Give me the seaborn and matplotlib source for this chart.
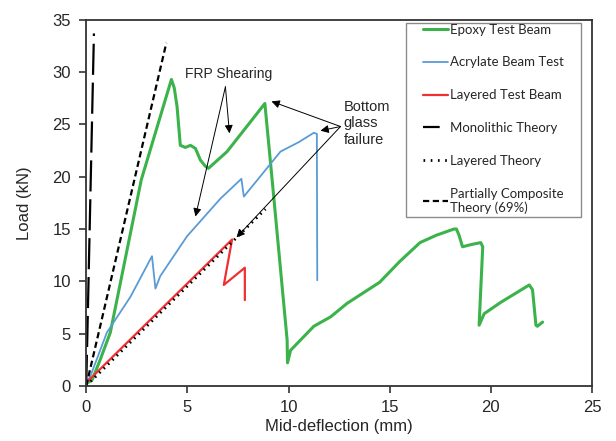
import matplotlib
matplotlib.use("Agg")
import matplotlib.pyplot as plt
import seaborn as sns
from matplotlib.patches import Rectangle

# Epoxy test beam (mid-deflection mm, load kN)
epoxy_x = [0.0, 0.3, 0.69, 1.19, 2.72, 4.21, 4.35, 4.49, 4.65, 4.9, 5.15, 5.4, 5.64, 5.89, 6.04,
           6.96, 8.83, 9.19, 9.93, 9.95, 10.1, 11.25, 12.08, 12.9, 14.5, 15.5, 16.5, 17.3, 18.18,
           18.3, 18.43, 18.6, 19.0, 19.5, 19.6, 19.42, 19.67, 20.5, 21.9, 22.06, 22.23, 22.3, 22.56]
epoxy_y = [0.2, 0.6, 2.5, 5.1, 19.7, 29.3, 28.5, 26.7, 23.0, 22.8, 23.0, 22.7, 21.6, 21.0, 20.8,
           22.4, 27.0, 19.7, 4.4, 2.2, 3.4, 5.7, 6.6, 7.9, 9.9, 11.9, 13.7, 14.4, 15.0,
           15.0, 14.4, 13.3, 13.5, 13.7, 13.3, 5.8, 6.9, 8.0, 9.65, 9.2, 5.8, 5.7, 6.1]

# Acrylate beam test
acrylate_x = [0.0, 0.2, 1.02, 2.18, 3.25, 3.42, 3.66, 4.98, 6.63, 7.67, 7.79, 9.6, 10.5, 11.25, 11.4, 11.42]
acrylate_y = [0.3, 0.9, 5.1, 8.5, 12.4, 9.3, 10.5, 14.3, 17.9, 19.8, 18.1, 22.4, 23.3, 24.2, 24.1, 10.1]

# Layered test beam
layered_x = [0.0, 7.21, 6.8, 7.84, 7.84]
layered_y = [0.3, 14.0, 9.65, 11.3, 8.2]

# Theory lines
mono_x = [0.0, 0.38]
mono_y = [0.0, 33.7]
layth_x = [0.0, 8.86]
layth_y = [0.0, 16.9]
partial_x = [0.0, 3.96]
partial_y = [0.0, 32.8]

sns.set_style("ticks")
plt.rcParams['font.family'] = ['Liberation Sans', 'DejaVu Sans']

fig = plt.figure(figsize=(6.16, 4.41), dpi=100)
ax = fig.add_axes([0.14, 0.125, 0.821, 0.83])

sns.lineplot(x=epoxy_x, y=epoxy_y, sort=False, estimator=None, color='#3BB34A', lw=2.2,
             label='Epoxy Test Beam', ax=ax)
sns.lineplot(x=acrylate_x, y=acrylate_y, sort=False, estimator=None, color='#5B9BD5', lw=1.3,
             label='Acrylate Beam Test', ax=ax)
sns.lineplot(x=layered_x, y=layered_y, sort=False, estimator=None, color='#F03030', lw=1.6,
             label='Layered Test Beam', ax=ax)
sns.lineplot(x=mono_x, y=mono_y, sort=False, estimator=None, color='black', lw=1.6,
             label='Monolithic Theory', ax=ax)
ax.lines[-1].set_dashes([14, 3.5])
sns.lineplot(x=layth_x, y=layth_y, sort=False, estimator=None, color='black', lw=2.0,
             label='Layered Theory', ax=ax)
ax.lines[-1].set_dashes([0.6, 1.6])
sns.lineplot(x=partial_x, y=partial_y, sort=False, estimator=None, color='black', lw=1.6,
             label='Partially Composite\nTheory (69%)', ax=ax)
ax.lines[-1].set_dashes([2.8, 1.6])

ax.set_xlim(0, 25)
ax.set_ylim(0, 35)
ax.set_xticks(range(0, 26, 5))
ax.set_yticks(range(0, 36, 5))
ax.tick_params(labelsize=12, direction='out', length=5, width=1.2, color='#333333')
ax.tick_params(axis='x', pad=5)
ax.tick_params(axis='y', pad=6)
ax.set_xlabel('Mid-deflection (mm)', fontsize=12, labelpad=3)
ax.set_ylabel('Load (kN)', fontsize=12, labelpad=15)
for s in ax.spines.values():
    s.set_color('#333333')
    s.set_linewidth(1.3)

arrow = dict(arrowstyle='-|>', color='black', lw=0.7, mutation_scale=12, shrinkA=0, shrinkB=0)
ax.text(7.03, 29.8, 'FRP Shearing', fontsize=10, ha='center', va='center')
ax.annotate('', xy=(7.08, 24.15), xytext=(6.88, 28.6), arrowprops=arrow)
ax.annotate('', xy=(5.4, 16.2), xytext=(6.88, 28.6), arrowprops=arrow)

ax.text(12.72, 25.1, 'Bottom\nglass\nfailure', fontsize=10.5, ha='left', va='center', linespacing=1.2)
ax.annotate('', xy=(9.16, 27.2), xytext=(12.57, 24.8), arrowprops=arrow)
ax.annotate('', xy=(11.58, 24.4), xytext=(12.57, 24.8), arrowprops=arrow)
ax.annotate('', xy=(7.43, 14.2), xytext=(12.57, 24.8), arrowprops=arrow)

# legend entries without frame, frame drawn as a box
leg = ax.legend(loc='upper left', bbox_to_anchor=(0.666, 0.99), frameon=False,
                borderpad=0, labelspacing=1.58, handlelength=1.9, handletextpad=0.15,
                borderaxespad=0, prop={'family': 'Lato', 'size': 9.5})
leg.get_lines()[3].set_dashes([7.5, 10])
leg.get_lines()[4].set_dashes([0.6, 2.0])
ax.add_patch(Rectangle((0.632, 0.462), 0.346, 0.530, transform=ax.transAxes, fill=False,
                       edgecolor='#8c8c8c', lw=1.0, zorder=5))

fig.savefig('out.png', dpi=100)
